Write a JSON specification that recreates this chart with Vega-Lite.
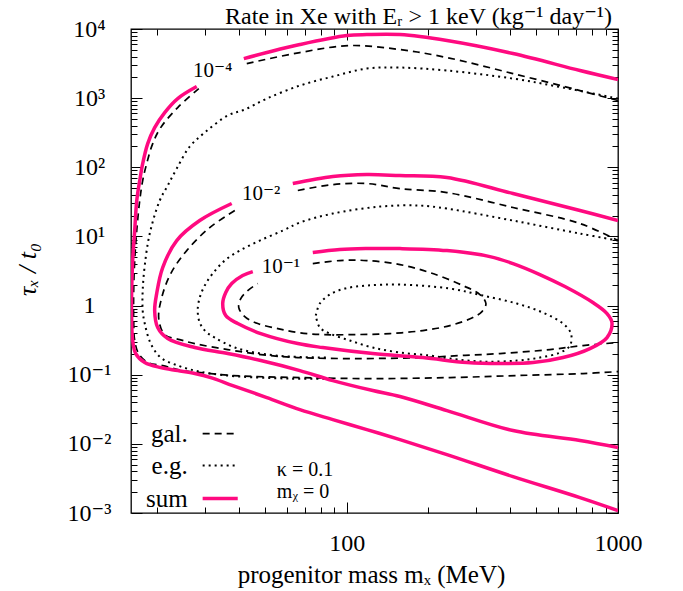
{
  "$schema": "https://vega.github.io/schema/vega-lite/v6.json",
  "width": 487,
  "height": 484,
  "autosize": {"type": "none"},
  "padding": {"left": 131, "top": 29, "right": 65, "bottom": 78},
  "background": "white",
  "config": {
    "view": {"stroke": "black", "strokeWidth": 1.3},
    "font": "Liberation Serif, DejaVu Serif, serif",
    "axis": {
      "domain": false, "grid": false, "tickColor": "black", "tickWidth": 1,
      "labelColor": "black", "titleColor": "black",
      "labelFont": "Liberation Serif, DejaVu Serif, serif", "titleFont": "Liberation Serif, DejaVu Serif, serif",
      "titleFontWeight": "normal", "labelFlush": false, "labelOverlap": false
    },
    "text": {"font": "Liberation Serif, DejaVu Serif, serif", "color": "black"}
  },
  "title": {
    "text": "Rate in Xe with Eᵣ > 1 keV (kg⁻¹ day⁻¹)",
    "anchor": "end", "frame": "group", "offset": 5, "dx": -6, "dy": 17,
    "fontSize": 24, "font": "Liberation Serif, DejaVu Serif, serif", "fontWeight": "normal", "color": "black"
  },
  "datasets": {
    "curves": [
      {"series":"sum","seg":"a","i":0,"m":41.7,"tau":3733},
      {"series":"sum","seg":"a","i":1,"m":50.7,"tau":4563},
      {"series":"sum","seg":"a","i":2,"m":67.1,"tau":5957},
      {"series":"sum","seg":"a","i":3,"m":100,"tau":8040},
      {"series":"sum","seg":"a","i":4,"m":118.5,"tau":8310},
      {"series":"sum","seg":"a","i":5,"m":157,"tau":8310},
      {"series":"sum","seg":"a","i":6,"m":234,"tau":6805},
      {"series":"sum","seg":"a","i":7,"m":410,"tau":4414},
      {"series":"sum","seg":"a","i":8,"m":724,"tau":2506},
      {"series":"sum","seg":"a","i":9,"m":1000,"tau":1857},

      {"series":"sum","seg":"b","i":0,"m":27.96,"tau":1471},
      {"series":"sum","seg":"b","i":1,"m":23.79,"tau":986},
      {"series":"sum","seg":"b","i":2,"m":21.30,"tau":619},
      {"series":"sum","seg":"b","i":3,"m":19.56,"tau":375},
      {"series":"sum","seg":"b","i":4,"m":18.44,"tau":220},
      {"series":"sum","seg":"b","i":5,"m":17.67,"tau":113},
      {"series":"sum","seg":"b","i":6,"m":17.23,"tau":64.3},
      {"series":"sum","seg":"b","i":7,"m":16.80,"tau":33.0},
      {"series":"sum","seg":"b","i":8,"m":16.51,"tau":12.2},
      {"series":"sum","seg":"b","i":9,"m":16.23,"tau":4.48},
      {"series":"sum","seg":"b","i":10,"m":16.09,"tau":1.648},
      {"series":"sum","seg":"b","i":11,"m":16.09,"tau":0.607},
      {"series":"sum","seg":"b","i":12,"m":16.23,"tau":0.312},
      {"series":"sum","seg":"b","i":13,"m":16.65,"tau":0.202},
      {"series":"sum","seg":"b","i":14,"m":17.98,"tau":0.150},
      {"series":"sum","seg":"b","i":15,"m":20.59,"tau":0.1269},
      {"series":"sum","seg":"b","i":16,"m":23.79,"tau":0.1148},
      {"series":"sum","seg":"b","i":17,"m":27.49,"tau":0.1039},
      {"series":"sum","seg":"b","i":18,"m":31.49,"tau":0.0909},
      {"series":"sum","seg":"b","i":19,"m":37.96,"tau":0.0697},
      {"series":"sum","seg":"b","i":20,"m":50.7,"tau":0.0467},
      {"series":"sum","seg":"b","i":21,"m":67.1,"tau":0.0313},
      {"series":"sum","seg":"b","i":22,"m":88.8,"tau":0.02245},
      {"series":"sum","seg":"b","i":23,"m":118.5,"tau":0.01609},
      {"series":"sum","seg":"b","i":24,"m":157,"tau":0.01153},
      {"series":"sum","seg":"b","i":25,"m":234,"tau":0.00700},
      {"series":"sum","seg":"b","i":26,"m":410,"tau":0.00336},
      {"series":"sum","seg":"b","i":27,"m":724,"tau":0.00167},
      {"series":"sum","seg":"b","i":28,"m":1000,"tau":0.001084},

      {"series":"sum","seg":"c","i":0,"m":63.2,"tau":58.2},
      {"series":"sum","seg":"c","i":1,"m":88.8,"tau":73.4},
      {"series":"sum","seg":"c","i":2,"m":118.5,"tau":78.5},
      {"series":"sum","seg":"c","i":3,"m":157,"tau":75.9},
      {"series":"sum","seg":"c","i":4,"m":234,"tau":71.0},
      {"series":"sum","seg":"c","i":5,"m":410,"tau":41.7},
      {"series":"sum","seg":"c","i":6,"m":724,"tau":23.7},
      {"series":"sum","seg":"c","i":7,"m":1000,"tau":16.96},

      {"series":"sum","seg":"d","i":0,"m":37.63,"tau":29.9},
      {"series":"sum","seg":"d","i":1,"m":28.68,"tau":16.96},
      {"series":"sum","seg":"d","i":2,"m":23.59,"tau":8.71},
      {"series":"sum","seg":"d","i":3,"m":20.94,"tau":3.545},
      {"series":"sum","seg":"d","i":4,"m":19.90,"tau":1.491},
      {"series":"sum","seg":"d","i":5,"m":19.56,"tau":0.847},
      {"series":"sum","seg":"d","i":6,"m":20.07,"tau":0.4808},
      {"series":"sum","seg":"d","i":7,"m":21.85,"tau":0.3332},
      {"series":"sum","seg":"d","i":8,"m":27.49,"tau":0.2470},
      {"series":"sum","seg":"d","i":9,"m":36.38,"tau":0.2021},
      {"series":"sum","seg":"d","i":10,"m":48.16,"tau":0.1602},
      {"series":"sum","seg":"d","i":11,"m":67.1,"tau":0.1148},
      {"series":"sum","seg":"d","i":12,"m":88.8,"tau":0.0823},
      {"series":"sum","seg":"d","i":13,"m":124.7,"tau":0.0590},
      {"series":"sum","seg":"d","i":14,"m":157,"tau":0.0483},
      {"series":"sum","seg":"d","i":15,"m":234,"tau":0.0303},
      {"series":"sum","seg":"d","i":16,"m":410,"tau":0.01556},
      {"series":"sum","seg":"d","i":17,"m":724,"tau":0.01115},
      {"series":"sum","seg":"d","i":18,"m":1000,"tau":0.00884},

      {"series":"sum","seg":"e","i":0,"m":74.9,"tau":5.84},
      {"series":"sum","seg":"e","i":1,"m":94.2,"tau":6.46},
      {"series":"sum","seg":"e","i":2,"m":118.5,"tau":6.67},
      {"series":"sum","seg":"e","i":3,"m":157,"tau":6.67},
      {"series":"sum","seg":"e","i":4,"m":234,"tau":6.24},
      {"series":"sum","seg":"e","i":5,"m":337,"tau":5.11},
      {"series":"sum","seg":"e","i":6,"m":410,"tau":4.05},
      {"series":"sum","seg":"e","i":7,"m":515,"tau":2.81},
      {"series":"sum","seg":"e","i":8,"m":637,"tau":1.883},
      {"series":"sum","seg":"e","i":9,"m":808,"tau":1.105},
      {"series":"sum","seg":"e","i":10,"m":911,"tau":0.766},
      {"series":"sum","seg":"e","i":11,"m":950,"tau":0.5677},
      {"series":"sum","seg":"e","i":12,"m":911,"tau":0.3444},
      {"series":"sum","seg":"e","i":13,"m":788,"tau":0.2388},
      {"series":"sum","seg":"e","i":14,"m":627,"tau":0.1770},
      {"series":"sum","seg":"e","i":15,"m":486,"tau":0.1498},
      {"series":"sum","seg":"e","i":16,"m":367,"tau":0.1449},
      {"series":"sum","seg":"e","i":17,"m":277,"tau":0.1498},
      {"series":"sum","seg":"e","i":18,"m":190.7,"tau":0.1770},
      {"series":"sum","seg":"e","i":19,"m":124.7,"tau":0.2021},
      {"series":"sum","seg":"e","i":20,"m":81.5,"tau":0.2470},
      {"series":"sum","seg":"e","i":21,"m":65.95,"tau":0.2821},
      {"series":"sum","seg":"e","i":22,"m":48.16,"tau":0.3936},
      {"series":"sum","seg":"e","i":23,"m":39.6,"tau":0.5491},
      {"series":"sum","seg":"e","i":24,"m":35.77,"tau":0.7168},
      {"series":"sum","seg":"e","i":25,"m":34.86,"tau":1.069},
      {"series":"sum","seg":"e","i":26,"m":35.77,"tau":1.542},
      {"series":"sum","seg":"e","i":27,"m":37.63,"tau":2.080},
      {"series":"sum","seg":"e","i":28,"m":41.3,"tau":2.716},
      {"series":"sum","seg":"e","i":29,"m":45.0,"tau":3.10},

      {"series":"gal","seg":"a","i":0,"m":42.76,"tau":3163},
      {"series":"gal","seg":"a","i":1,"m":67.1,"tau":4563},
      {"series":"gal","seg":"a","i":2,"m":102.6,"tau":5761},
      {"series":"gal","seg":"a","i":3,"m":157,"tau":5042},
      {"series":"gal","seg":"a","i":4,"m":234,"tau":3863},
      {"series":"gal","seg":"a","i":5,"m":410,"tau":2267},
      {"series":"gal","seg":"a","i":6,"m":724,"tau":1287},
      {"series":"gal","seg":"a","i":7,"m":1000,"tau":923},

      {"series":"gal","seg":"b","i":0,"m":28.44,"tau":1376},
      {"series":"gal","seg":"b","i":1,"m":23.79,"tau":731},
      {"series":"gal","seg":"b","i":2,"m":20.59,"tau":375},
      {"series":"gal","seg":"b","i":3,"m":19.24,"tau":220},
      {"series":"gal","seg":"b","i":4,"m":18.28,"tau":113},
      {"series":"gal","seg":"b","i":5,"m":17.67,"tau":64.3},
      {"series":"gal","seg":"b","i":6,"m":17.23,"tau":33.0},
      {"series":"gal","seg":"b","i":7,"m":16.80,"tau":12.2},
      {"series":"gal","seg":"b","i":8,"m":16.51,"tau":4.48},
      {"series":"gal","seg":"b","i":9,"m":16.37,"tau":1.648},
      {"series":"gal","seg":"b","i":10,"m":16.37,"tau":0.607},
      {"series":"gal","seg":"b","i":11,"m":16.51,"tau":0.312},
      {"series":"gal","seg":"b","i":12,"m":17.08,"tau":0.202},
      {"series":"gal","seg":"b","i":13,"m":18.44,"tau":0.150},
      {"series":"gal","seg":"b","i":14,"m":20.94,"tau":0.1356},
      {"series":"gal","seg":"b","i":15,"m":24.82,"tau":0.1148},
      {"series":"gal","seg":"b","i":16,"m":31.49,"tau":0.1039},
      {"series":"gal","seg":"b","i":17,"m":37.96,"tau":0.0972},
      {"series":"gal","seg":"b","i":18,"m":67.1,"tau":0.0909},
      {"series":"gal","seg":"b","i":19,"m":124.7,"tau":0.0879},
      {"series":"gal","seg":"b","i":20,"m":240,"tau":0.0909},
      {"series":"gal","seg":"b","i":21,"m":424,"tau":0.0972},
      {"series":"gal","seg":"b","i":22,"m":743,"tau":0.1039},
      {"series":"gal","seg":"b","i":23,"m":1000,"tau":0.1110},

      {"series":"gal","seg":"c","i":0,"m":65.95,"tau":46.1},
      {"series":"gal","seg":"c","i":1,"m":88.8,"tau":56.2},
      {"series":"gal","seg":"c","i":2,"m":118.5,"tau":58.2},
      {"series":"gal","seg":"c","i":3,"m":157,"tau":49.2},
      {"series":"gal","seg":"c","i":4,"m":234,"tau":43.1},
      {"series":"gal","seg":"c","i":5,"m":410,"tau":26.2},
      {"series":"gal","seg":"c","i":6,"m":724,"tau":15.35},
      {"series":"gal","seg":"c","i":7,"m":1000,"tau":8.71},

      {"series":"gal","seg":"d","i":0,"m":38.62,"tau":23.7},
      {"series":"gal","seg":"d","i":1,"m":31.22,"tau":13.43},
      {"series":"gal","seg":"d","i":2,"m":25.68,"tau":6.24},
      {"series":"gal","seg":"d","i":3,"m":22.42,"tau":2.903},
      {"series":"gal","seg":"d","i":4,"m":20.77,"tau":1.305},
      {"series":"gal","seg":"d","i":5,"m":20.25,"tau":0.6486},
      {"series":"gal","seg":"d","i":6,"m":21.30,"tau":0.3806},
      {"series":"gal","seg":"d","i":7,"m":24.2,"tau":0.3223},
      {"series":"gal","seg":"d","i":8,"m":27.49,"tau":0.2818},
      {"series":"gal","seg":"d","i":9,"m":36.38,"tau":0.2310},
      {"series":"gal","seg":"d","i":10,"m":48.16,"tau":0.1956},
      {"series":"gal","seg":"d","i":11,"m":65.95,"tau":0.1770},
      {"series":"gal","seg":"d","i":12,"m":108.9,"tau":0.1712},
      {"series":"gal","seg":"d","i":13,"m":190.7,"tau":0.1770},
      {"series":"gal","seg":"d","i":14,"m":261,"tau":0.1891},
      {"series":"gal","seg":"d","i":15,"m":367,"tau":0.2021},
      {"series":"gal","seg":"d","i":16,"m":561,"tau":0.2310},
      {"series":"gal","seg":"d","i":17,"m":743,"tau":0.2639},
      {"series":"gal","seg":"d","i":18,"m":1000,"tau":0.2916},

      {"series":"gal","seg":"e","i":0,"m":74.9,"tau":4.05},
      {"series":"gal","seg":"e","i":1,"m":94.2,"tau":4.48},
      {"series":"gal","seg":"e","i":2,"m":118.5,"tau":4.48},
      {"series":"gal","seg":"e","i":3,"m":157,"tau":3.917},
      {"series":"gal","seg":"e","i":4,"m":202.4,"tau":3.001},
      {"series":"gal","seg":"e","i":5,"m":268,"tau":1.946},
      {"series":"gal","seg":"e","i":6,"m":309.6,"tau":1.442},
      {"series":"gal","seg":"e","i":7,"m":325.8,"tau":1.069},
      {"series":"gal","seg":"e","i":8,"m":315,"tau":0.819},
      {"series":"gal","seg":"e","i":9,"m":291.7,"tau":0.6707},
      {"series":"gal","seg":"e","i":10,"m":240,"tau":0.5139},
      {"series":"gal","seg":"e","i":11,"m":190.7,"tau":0.4349},
      {"series":"gal","seg":"e","i":12,"m":144.1,"tau":0.3936},
      {"series":"gal","seg":"e","i":13,"m":108.9,"tau":0.3806},
      {"series":"gal","seg":"e","i":14,"m":81.5,"tau":0.3806},
      {"series":"gal","seg":"e","i":15,"m":65.95,"tau":0.4069},
      {"series":"gal","seg":"e","i":16,"m":55.65,"tau":0.4649},
      {"series":"gal","seg":"e","i":17,"m":46.95,"tau":0.5491},
      {"series":"gal","seg":"e","i":18,"m":42.04,"tau":0.6934},
      {"series":"gal","seg":"e","i":19,"m":39.95,"tau":0.9355},
      {"series":"gal","seg":"e","i":20,"m":40.64,"tau":1.262},
      {"series":"gal","seg":"e","i":21,"m":43.12,"tau":1.648},
      {"series":"gal","seg":"e","i":22,"m":46.95,"tau":2.080},

      {"series":"eg","seg":"a","i":0,"m":1000,"tau":986},
      {"series":"eg","seg":"a","i":1,"m":627,"tau":1422},
      {"series":"eg","seg":"a","i":2,"m":410,"tau":1920},
      {"series":"eg","seg":"a","i":3,"m":234,"tau":2506},
      {"series":"eg","seg":"a","i":4,"m":157,"tau":2769},
      {"series":"eg","seg":"a","i":5,"m":118.5,"tau":2678},
      {"series":"eg","seg":"a","i":6,"m":88.8,"tau":2052},
      {"series":"eg","seg":"a","i":7,"m":67.1,"tau":1520},
      {"series":"eg","seg":"a","i":8,"m":50.7,"tau":986},
      {"series":"eg","seg":"a","i":9,"m":42.04,"tau":684},
      {"series":"eg","seg":"a","i":10,"m":36.38,"tau":560},
      {"series":"eg","seg":"a","i":11,"m":29.92,"tau":318},
      {"series":"eg","seg":"a","i":12,"m":26.34,"tau":199.3},
      {"series":"eg","seg":"a","i":13,"m":23.59,"tau":95.8},
      {"series":"eg","seg":"a","i":14,"m":21.85,"tau":54.4},
      {"series":"eg","seg":"a","i":15,"m":20.42,"tau":33.0},
      {"series":"eg","seg":"a","i":16,"m":18.76,"tau":11.0},
      {"series":"eg","seg":"a","i":17,"m":17.98,"tau":3.789},
      {"series":"eg","seg":"a","i":18,"m":17.67,"tau":1.648},
      {"series":"eg","seg":"a","i":19,"m":17.67,"tau":0.847},
      {"series":"eg","seg":"a","i":20,"m":17.98,"tau":0.5491},
      {"series":"eg","seg":"a","i":21,"m":18.92,"tau":0.2821},
      {"series":"eg","seg":"a","i":22,"m":20.59,"tau":0.1770},
      {"series":"eg","seg":"a","i":23,"m":23.79,"tau":0.1356},
      {"series":"eg","seg":"a","i":24,"m":27.49,"tau":0.1148},
      {"series":"eg","seg":"a","i":25,"m":31.49,"tau":0.1039},
      {"series":"eg","seg":"a","i":26,"m":40.29,"tau":0.0940},
      {"series":"eg","seg":"a","i":27,"m":61.6,"tau":0.0879},
      {"series":"eg","seg":"a","i":28,"m":86.5,"tau":0.0879},

      {"series":"eg","seg":"b","i":0,"m":1000,"tau":8.71},
      {"series":"eg","seg":"b","i":1,"m":724,"tau":11.0},
      {"series":"eg","seg":"b","i":2,"m":410,"tau":16.96},
      {"series":"eg","seg":"b","i":3,"m":234,"tau":25.29},
      {"series":"eg","seg":"b","i":4,"m":186,"tau":27.95},
      {"series":"eg","seg":"b","i":5,"m":132.5,"tau":27.04},
      {"series":"eg","seg":"b","i":6,"m":88.8,"tau":21.41},
      {"series":"eg","seg":"b","i":7,"m":67.1,"tau":15.87},
      {"series":"eg","seg":"b","i":8,"m":58.05,"tau":12.16},
      {"series":"eg","seg":"b","i":9,"m":47.75,"tau":8.71},
      {"series":"eg","seg":"b","i":10,"m":40.3,"tau":6.24},
      {"series":"eg","seg":"b","i":11,"m":35.46,"tau":4.48},
      {"series":"eg","seg":"b","i":12,"m":32.03,"tau":2.903},
      {"series":"eg","seg":"b","i":13,"m":29.92,"tau":1.946},
      {"series":"eg","seg":"b","i":14,"m":28.68,"tau":1.305},
      {"series":"eg","seg":"b","i":15,"m":28.19,"tau":0.847},
      {"series":"eg","seg":"b","i":16,"m":28.68,"tau":0.5677},
      {"series":"eg","seg":"b","i":17,"m":30.18,"tau":0.4207},
      {"series":"eg","seg":"b","i":18,"m":32.58,"tau":0.3444},
      {"series":"eg","seg":"b","i":19,"m":38.62,"tau":0.2470},
      {"series":"eg","seg":"b","i":20,"m":48.16,"tau":0.2021},
      {"series":"eg","seg":"b","i":21,"m":61.6,"tau":0.1830},
      {"series":"eg","seg":"b","i":22,"m":86.5,"tau":0.1770},

      {"series":"eg","seg":"c","i":0,"m":76.83,"tau":0.7168},
      {"series":"eg","seg":"c","i":1,"m":79.5,"tau":1.069},
      {"series":"eg","seg":"c","i":2,"m":86.5,"tau":1.442},
      {"series":"eg","seg":"c","i":3,"m":98.3,"tau":1.762},
      {"series":"eg","seg":"c","i":4,"m":118.5,"tau":1.946},
      {"series":"eg","seg":"c","i":5,"m":157,"tau":2.012},
      {"series":"eg","seg":"c","i":6,"m":240,"tau":1.762},
      {"series":"eg","seg":"c","i":7,"m":317.6,"tau":1.395},
      {"series":"eg","seg":"c","i":8,"m":424,"tau":1.069},
      {"series":"eg","seg":"c","i":9,"m":528.6,"tau":0.7921},
      {"series":"eg","seg":"c","i":10,"m":627,"tau":0.5491},
      {"series":"eg","seg":"c","i":11,"m":670.8,"tau":0.3936},
      {"series":"eg","seg":"c","i":12,"m":665.1,"tau":0.2639},
      {"series":"eg","seg":"c","i":13,"m":611,"tau":0.2090},
      {"series":"eg","seg":"c","i":14,"m":515,"tau":0.1770},
      {"series":"eg","seg":"c","i":15,"m":424,"tau":0.1602},
      {"series":"eg","seg":"c","i":16,"m":317.6,"tau":0.1549},
      {"series":"eg","seg":"c","i":17,"m":240,"tau":0.1712},
      {"series":"eg","seg":"c","i":18,"m":202.4,"tau":0.1891},
      {"series":"eg","seg":"c","i":19,"m":157,"tau":0.2090},
      {"series":"eg","seg":"c","i":20,"m":124.7,"tau":0.2470},
      {"series":"eg","seg":"c","i":21,"m":102.6,"tau":0.312},
      {"series":"eg","seg":"c","i":22,"m":86.5,"tau":0.3936},
      {"series":"eg","seg":"c","i":23,"m":79.5,"tau":0.4808},
      {"series":"eg","seg":"c","i":24,"m":76.83,"tau":0.7168}
    ],
    "key": [
      {"series":"gal","label":"gal.","m1":29.4,"m2":39.6,"mt":25.9,"tau":0.0141},
      {"series":"eg","label":"e.g.","m1":29.4,"m2":39.6,"mt":25.9,"tau":0.00485},
      {"series":"sum","label":"sum","m1":29.4,"m2":39.6,"mt":25.9,"tau":0.00162}
    ],
    "notes": [
      {"label":"κ = 0.1","m":55.2,"tau":0.0042},
      {"label":"mᵪ = 0","m":55.2,"tau":0.002}
    ],
    "levels": [
      {"label":"10⁻⁴","m":32.0,"tau":2506},
      {"label":"10⁻²","m":48.3,"tau":41.7},
      {"label":"10⁻¹","m":57.1,"tau":3.66}
    ]
  },
  "resolve": {"axis": {"x": "independent", "y": "independent"}},
  "layer": [
    {
      "data": {"name": "curves"},
      "transform": [{"filter": "datum.series === 'eg'"}],
      "mark": {"type": "line", "color": "black", "strokeWidth": 2, "strokeDash": [2, 4], "interpolate": "catmull-rom", "clip": true},
      "encoding": {
        "x": {"field": "m", "type": "quantitative",
              "scale": {"type": "log", "domain": [16, 1000], "nice": false},
              "axis": {"orient": "bottom", "values": [20,30,40,50,60,70,80,90,200,300,400,500,600,700,800,900], "labels": false, "tickSize": -6, "title": null}},
        "y": {"field": "tau", "type": "quantitative",
              "scale": {"type": "log", "domain": [0.001, 10000], "nice": false},
              "axis": {"orient": "left", "values": [0.002,0.003,0.004,0.005,0.006,0.007,0.008,0.009,0.02,0.03,0.04,0.05,0.06,0.07,0.08,0.09,0.2,0.3,0.4,0.5,0.6,0.7,0.8,0.9,2,3,4,5,6,7,8,9,20,30,40,50,60,70,80,90,200,300,400,500,600,700,800,900,2000,3000,4000,5000,6000,7000,8000,9000], "labels": false, "tickSize": -6, "title": null}},
        "detail": {"field": "seg", "type": "nominal"},
        "order": {"field": "i", "type": "quantitative"}
      }
    },
    {
      "data": {"name": "curves"},
      "transform": [{"filter": "datum.series === 'gal'"}],
      "mark": {"type": "line", "color": "black", "strokeWidth": 1.7, "strokeDash": [7, 5], "interpolate": "catmull-rom", "clip": true},
      "encoding": {
        "x": {"field": "m", "type": "quantitative",
              "scale": {"type": "log", "domain": [16, 1000], "nice": false},
              "axis": {"orient": "bottom", "values": [100, 1000], "labels": false, "tickSize": -11, "title": null}},
        "y": {"field": "tau", "type": "quantitative",
              "scale": {"type": "log", "domain": [0.001, 10000], "nice": false},
              "axis": {"orient": "left", "values": [0.001,0.01,0.1,1,10,100,1000,10000], "labels": false, "tickSize": -11, "title": null}},
        "detail": {"field": "seg", "type": "nominal"},
        "order": {"field": "i", "type": "quantitative"}
      }
    },
    {
      "data": {"name": "curves"},
      "transform": [{"filter": "datum.series === 'sum'"}],
      "mark": {"type": "line", "color": "#ff0a80", "strokeWidth": 3.5, "interpolate": "catmull-rom", "clip": true},
      "encoding": {
        "x": {"field": "m", "type": "quantitative",
              "scale": {"type": "log", "domain": [16, 1000], "nice": false},
              "axis": {"orient": "bottom", "values": [100, 1000], "format": "d", "ticks": false,
                       "labelFontSize": 24, "labelPadding": 18, "labelAlign": "center",
                       "title": "progenitor mass mₓ (MeV)", "titleFontSize": 25, "titleFontWeight": "normal",
                       "titleX": 240, "titleY": 61, "titleAlign": "center", "titleBaseline": "middle"}},
        "y": {"field": "tau", "type": "quantitative",
              "scale": {"type": "log", "domain": [0.001, 10000], "nice": false},
              "axis": {"orient": "left", "values": [0.001,0.01,0.1,1,10,100,1000,10000], "ticks": false,
                       "labelExpr": "['10⁻³','10⁻²','10⁻¹','1','10¹','10²','10³','10⁴'][round(log(datum.value)/LN10)+3]",
                       "labelFontSize": 24, "labelAlign": "center", "labelBaseline": "middle", "labelPadding": 42,
                       "title": "τₓ / t₀", "titleFontSize": 26, "titleFontWeight": "normal", "titleFontStyle": "italic", "titleAngle": -90,
                       "titleX": -104, "titleY": 240, "titleAlign": "center", "titleBaseline": "middle"}},
        "detail": {"field": "seg", "type": "nominal"},
        "order": {"field": "i", "type": "quantitative"}
      }
    },
    {
      "data": {"name": "key"},
      "transform": [{"filter": "datum.series === 'gal'"}],
      "mark": {"type": "rule", "color": "black", "strokeWidth": 1.7, "strokeDash": [7, 5]},
      "encoding": {
        "x": {"field": "m1", "type": "quantitative",
              "scale": {"type": "log", "domain": [16, 1000], "nice": false},
              "axis": {"orient": "top", "values": [100, 1000], "labels": false, "tickSize": -11, "title": null}},
        "x2": {"field": "m2"},
        "y": {"field": "tau", "type": "quantitative",
              "scale": {"type": "log", "domain": [0.001, 10000], "nice": false},
              "axis": {"orient": "right", "values": [0.001,0.01,0.1,1,10,100,1000,10000], "labels": false, "tickSize": -11, "title": null}}
      }
    },
    {
      "data": {"name": "key"},
      "transform": [{"filter": "datum.series === 'eg'"}],
      "mark": {"type": "rule", "color": "black", "strokeWidth": 2, "strokeDash": [2, 4]},
      "encoding": {
        "x": {"field": "m1", "type": "quantitative",
              "scale": {"type": "log", "domain": [16, 1000], "nice": false},
              "axis": {"orient": "top", "values": [20,30,40,50,60,70,80,90,200,300,400,500,600,700,800,900], "labels": false, "tickSize": -6, "title": null}},
        "x2": {"field": "m2"},
        "y": {"field": "tau", "type": "quantitative",
              "scale": {"type": "log", "domain": [0.001, 10000], "nice": false},
              "axis": {"orient": "right", "values": [0.002,0.003,0.004,0.005,0.006,0.007,0.008,0.009,0.02,0.03,0.04,0.05,0.06,0.07,0.08,0.09,0.2,0.3,0.4,0.5,0.6,0.7,0.8,0.9,2,3,4,5,6,7,8,9,20,30,40,50,60,70,80,90,200,300,400,500,600,700,800,900,2000,3000,4000,5000,6000,7000,8000,9000], "labels": false, "tickSize": -6, "title": null}}
      }
    },
    {
      "data": {"name": "key"},
      "transform": [{"filter": "datum.series === 'sum'"}],
      "mark": {"type": "rule", "color": "#ff0a80", "strokeWidth": 3.5},
      "encoding": {
        "x": {"field": "m1", "type": "quantitative", "scale": {"type": "log", "domain": [16, 1000], "nice": false}, "axis": null},
        "x2": {"field": "m2"},
        "y": {"field": "tau", "type": "quantitative", "scale": {"type": "log", "domain": [0.001, 10000], "nice": false}, "axis": null}
      }
    },
    {
      "data": {"name": "key"},
      "mark": {"type": "text", "align": "right", "baseline": "middle", "fontSize": 25, "font": "Liberation Serif, DejaVu Serif, serif"},
      "encoding": {
        "x": {"field": "mt", "type": "quantitative", "scale": {"type": "log", "domain": [16, 1000], "nice": false}, "axis": null},
        "y": {"field": "tau", "type": "quantitative", "scale": {"type": "log", "domain": [0.001, 10000], "nice": false}, "axis": null},
        "text": {"field": "label"}
      }
    },
    {
      "data": {"name": "notes"},
      "mark": {"type": "text", "align": "left", "baseline": "middle", "fontSize": 20, "font": "Liberation Serif, DejaVu Serif, serif"},
      "encoding": {
        "x": {"field": "m", "type": "quantitative", "scale": {"type": "log", "domain": [16, 1000], "nice": false}, "axis": null},
        "y": {"field": "tau", "type": "quantitative", "scale": {"type": "log", "domain": [0.001, 10000], "nice": false}, "axis": null},
        "text": {"field": "label"}
      }
    },
    {
      "data": {"name": "levels"},
      "mark": {"type": "text", "align": "center", "baseline": "middle", "fontSize": 21, "font": "Liberation Serif, DejaVu Serif, serif"},
      "encoding": {
        "x": {"field": "m", "type": "quantitative", "scale": {"type": "log", "domain": [16, 1000], "nice": false}, "axis": null},
        "y": {"field": "tau", "type": "quantitative", "scale": {"type": "log", "domain": [0.001, 10000], "nice": false}, "axis": null},
        "text": {"field": "label"}
      }
    }
  ]
}
